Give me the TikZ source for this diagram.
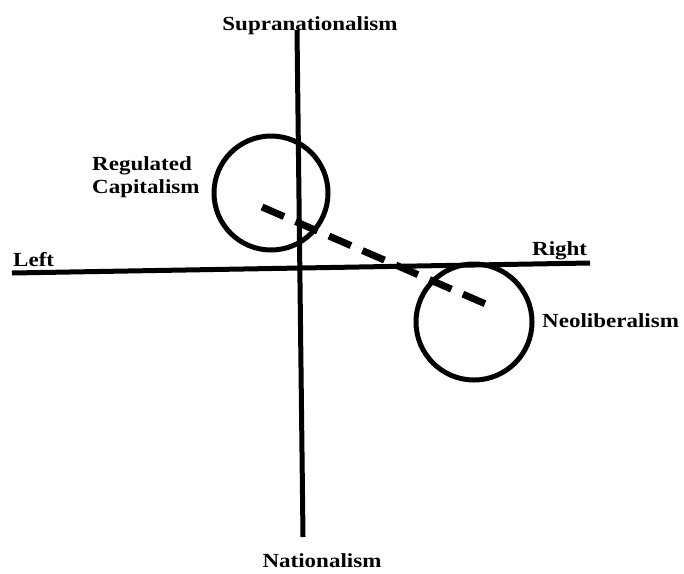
\documentclass[tikz,border=0pt]{standalone}
\usepackage{fontspec}
\setmainfont{Liberation Serif}[FakeStretch=1.15]
\tikzset{
  rotulo/.style={inner sep=0pt, font=\fontsize{20}{23}\selectfont\bfseries},
  bloco/.style={circle, draw, line width=5pt, minimum size=114pt, inner sep=0pt}
}
\begin{document}
\begin{tikzpicture}[x=1pt, y=-1pt]
    \useasboundingbox (0,0) rectangle (684,573);

    % Eixos
    \coordinate (esq) at (12,273);
    \coordinate (dir) at (590,263);
    \coordinate (topo) at (297,30);
    \coordinate (base) at (303,537);
    \draw[line width=5pt] (esq) -- (dir);
    \draw[line width=5pt] (topo) -- (base);

    % Círculos
    \node[bloco] (reg) at (271,193) {};
    \node[bloco, minimum size=116pt] (neo) at (474,322) {};

    % Linha tracejada
    \coordinate (p1) at (262,207);
    \coordinate (p2) at (488,305);
    \draw[line width=7pt, dash pattern=on 24pt off 12.5pt] (p1) -- (p2);

    % Rótulos
    \node[rotulo, anchor=base] (supra) at (310,30) {Supranationalism};
    \node[rotulo, anchor=base] (nac) at (322,567) {Nationalism};
    \node[rotulo, anchor=base west] (left) at (13,266) {Left};
    \node[rotulo, anchor=base west] (right) at (532,255) {Right};
    \node[rotulo, anchor=base west] (neolib) at (542,327) {Neoliberalism};
    \node[rotulo, anchor=base west, align=left] (regcap) at (92,193) {Regulated\\Capitalism};
\end{tikzpicture}
\end{document}
